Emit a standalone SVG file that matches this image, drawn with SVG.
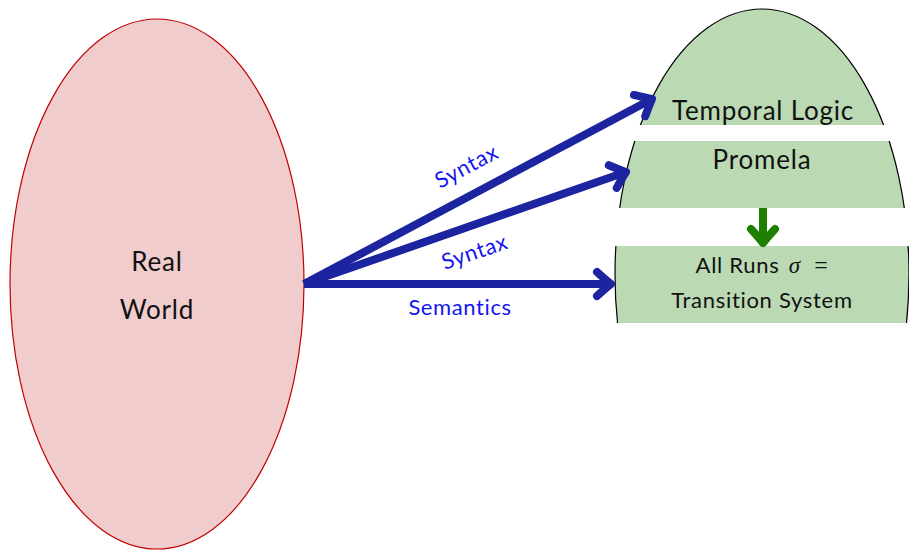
<svg xmlns="http://www.w3.org/2000/svg" width="909" height="550" viewBox="0 0 909 550">
  <style>
    .lbl { font-family: Lato, "DejaVu Sans", sans-serif; fill: #111; text-anchor: middle; }
    .big { font-size: 26px; letter-spacing: 0.8px; }
    .mid { font-size: 22px; letter-spacing: 0.7px; }
    .edge { fill: none; stroke: #1c24a0; stroke-width: 8; }
    .elab { font-family: Lato, "DejaVu Sans", sans-serif; font-size: 22px; letter-spacing: 0.6px; fill: #1515f0; text-anchor: middle; }
    .gap { fill: #ffffff; }
  </style>
  <defs>
    <marker id="headBlue" markerUnits="userSpaceOnUse" viewBox="-20 -16 24 32" markerWidth="24" markerHeight="32" refX="0" refY="0" orient="auto" overflow="visible">
      <path d="M-14,-12 Q-4,-3 0,0 Q-4,3 -14,12" fill="none" stroke="#1c24a0" stroke-width="8" stroke-linecap="round" stroke-linejoin="round"/>
    </marker>
    <marker id="headGreen" markerUnits="userSpaceOnUse" viewBox="-20 -16 24 32" markerWidth="24" markerHeight="32" refX="0" refY="0" orient="auto" overflow="visible">
      <path d="M-14,-12 Q-4,-3 0,0 Q-4,3 -14,12" fill="none" stroke="#1f7f00" stroke-width="8" stroke-linecap="round" stroke-linejoin="round"/>
    </marker>
  </defs>

  <!-- left node -->
  <g id="real-world">
    <ellipse cx="157" cy="284" rx="147" ry="265" fill="#f0cccc" stroke="#c00000" stroke-width="1.2"/>
    <text class="lbl big" x="157" y="271">Real</text>
    <text class="lbl big" x="157" y="319">World</text>
  </g>

  <!-- right stack: one ellipse cut into horizontal bands -->
  <g id="model-stack">
    <ellipse cx="762" cy="274" rx="147" ry="265" fill="#bbdab4" stroke="#000" stroke-width="1.2"/>
    <rect class="gap" x="600" y="125" width="309" height="16"/>
    <rect class="gap" x="600" y="208" width="309" height="38"/>
    <rect class="gap" x="600" y="323" width="309" height="227"/>
  </g>
  <g id="temporal-logic">
    <text class="lbl big" x="763" y="120">Temporal Logic</text>
  </g>
  <g id="promela">
    <text class="lbl big" x="762" y="169">Promela</text>
  </g>
  <g id="transition-system">
    <text class="lbl mid" x="762" y="273">All Runs <tspan dx="3" font-family="'Liberation Serif', serif" font-style="italic" font-size="23">σ</tspan> <tspan dx="7" font-family="'Liberation Serif', serif" font-size="24">=</tspan></text>
    <text class="lbl mid" x="762" y="308">Transition System</text>
  </g>

  <!-- connectors -->
  <g id="connectors">
    <line class="edge" x1="304" y1="284" x2="652" y2="99" marker-end="url(#headBlue)"/>
    <line class="edge" x1="304" y1="284" x2="626" y2="172" marker-end="url(#headBlue)"/>
    <line class="edge" x1="304" y1="284" x2="611" y2="284" marker-end="url(#headBlue)"/>
    <line x1="763" y1="208" x2="763" y2="243" fill="none" stroke="#1f7f00" stroke-width="8" marker-end="url(#headGreen)"/>
    <text class="elab" transform="translate(470,173) rotate(-28)">Syntax</text>
    <text class="elab" transform="translate(477,259) rotate(-19)">Syntax</text>
    <text class="elab" x="460" y="315">Semantics</text>
  </g>
</svg>
